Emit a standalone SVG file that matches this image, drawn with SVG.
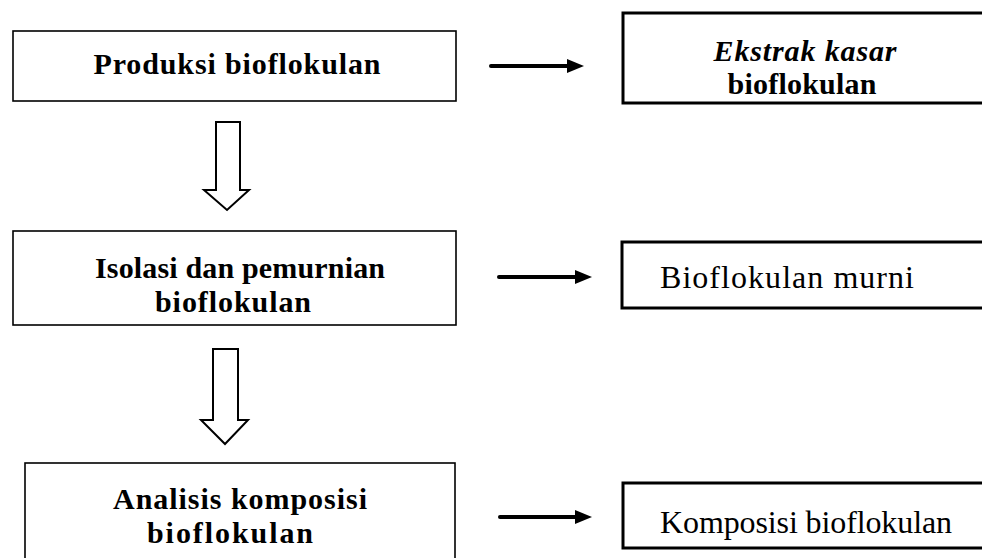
<svg xmlns="http://www.w3.org/2000/svg" width="982" height="558" viewBox="0 0 982 558">
<style>
.box{fill:#fff;stroke:#000;stroke-width:1.6}
.rbox{fill:#fff;stroke:#000;stroke-width:3}
.t{font-family:"Liberation Serif","Times New Roman",serif;font-size:30px;fill:#000;text-anchor:middle}
.b{font-weight:bold}
.r{font-size:32px;font-weight:normal}
.blk{fill:#fff;stroke:#000;stroke-width:2;stroke-linejoin:miter}
.ln{stroke:#000;stroke-width:4;stroke-linecap:round}
</style>
<rect width="982" height="558" fill="#fff"/>
<g id="n1"><rect class="box" x="13" y="31" width="443" height="70"/><text class="t b" x="237" y="74" textLength="287" lengthAdjust="spacing">Produksi bioflokulan</text></g>
<g id="n2"><rect class="rbox" x="623" y="13" width="372" height="90"/><text class="t b" x="805" y="61" font-style="italic" textLength="183" lengthAdjust="spacing">Ekstrak kasar</text><text class="t b" x="802" y="94" textLength="149" lengthAdjust="spacing">bioflokulan</text></g>
<g id="n3"><rect class="box" x="13" y="231" width="443" height="94"/><text class="t b" x="240" y="278" textLength="290" lengthAdjust="spacing">Isolasi dan pemurnian</text><text class="t b" x="233" y="312" textLength="156" lengthAdjust="spacing">bioflokulan</text></g>
<g id="n4"><rect class="rbox" x="622" y="242" width="372" height="66"/><text class="t r" x="787" y="288" textLength="254" lengthAdjust="spacing">Bioflokulan murni</text></g>
<g id="n5"><rect class="box" x="25" y="463" width="430" height="110"/><text class="t b" x="240" y="509" textLength="254" lengthAdjust="spacing">Analisis komposisi</text><text class="t b" x="230" y="543" textLength="166" lengthAdjust="spacing">bioflokulan</text></g>
<g id="n6"><rect class="rbox" x="623" y="483" width="372" height="65"/><text class="t r" x="806" y="533" textLength="292" lengthAdjust="spacing">Komposisi bioflokulan</text></g>
<g id="connectors">
<path class="blk" d="M216,122 L240,122 L240,190 L249,190 L227,210 L204,190 L216,190 Z"/>
<path class="blk" d="M213,349 L238,349 L238,420 L248,420 L225,444 L201,420 L213,420 Z"/>
<line class="ln" x1="491" y1="66" x2="570" y2="66"/><path d="M567,59 L584,66 L567,73 Z" fill="#000"/>
<line class="ln" x1="499" y1="277" x2="578" y2="277"/><path d="M575,270 L592,277 L575,284 Z" fill="#000"/>
<line class="ln" x1="500" y1="517" x2="578" y2="517"/><path d="M575,510 L592,517 L575,524 Z" fill="#000"/>
</g>
</svg>
